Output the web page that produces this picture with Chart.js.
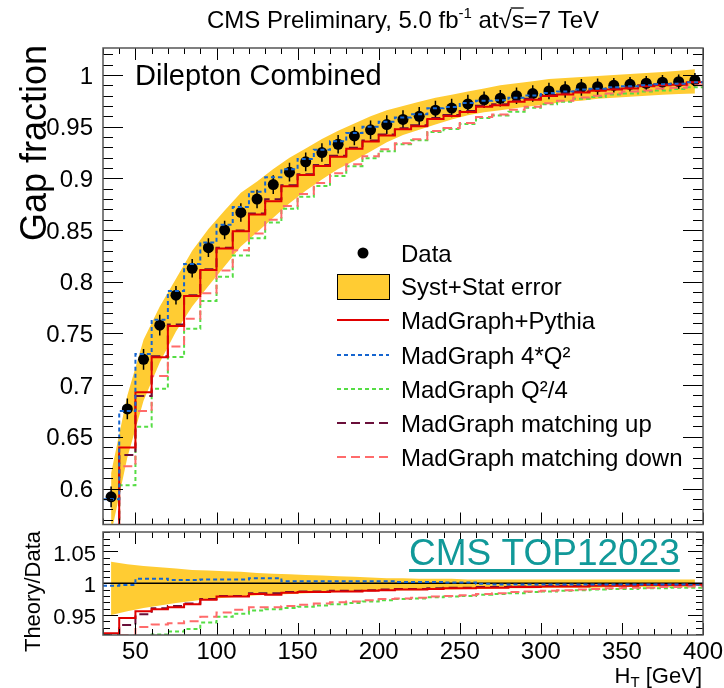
<!DOCTYPE html>
<html>
<head>
<meta charset="utf-8">
<script src="https://cdn.jsdelivr.net/npm/chart.js@4.4.1/dist/chart.umd.min.js"></script>
<style>
  html, body { margin: 0; padding: 0; background: #fff; }
  #wrap { position: relative; width: 724px; height: 688px; }
  canvas { position: absolute; left: 0; }
  #top { top: 0; }
  #ratio { top: 528px; }
</style>
</head>
<body>
<div id="wrap">
  <canvas id="top" width="724" height="530"></canvas>
  <canvas id="ratio" width="724" height="160"></canvas>
</div>
<script>
// H_T bins, 10 GeV wide
const htEdges = [30, 40, 50, 60, 70, 80, 90, 100, 110, 120, 130, 140, 150, 160, 170, 180, 190, 200, 210,
  220, 230, 240, 250, 260, 270, 280, 290, 300, 310, 320, 330, 340, 350, 360, 370, 380, 390, 400];
const htCenters = [35, 45, 55, 65, 75, 85, 95, 105, 115, 125, 135, 145, 155, 165, 175, 185, 195, 205, 215,
  225, 235, 245, 255, 265, 275, 285, 295, 305, 315, 325, 335, 345, 355, 365, 375, 385, 395];

// measured gap fraction and its error bar
const gapData = [0.592, 0.677, 0.725, 0.758, 0.787, 0.813, 0.833, 0.850, 0.867, 0.880, 0.894, 0.906, 0.916,
  0.925, 0.933, 0.941, 0.947, 0.952, 0.957, 0.960, 0.966, 0.968, 0.972, 0.976, 0.9775, 0.980, 0.982, 0.9845,
  0.986, 0.988, 0.9887, 0.990, 0.991, 0.992, 0.993, 0.9935, 0.995];
const gapErr = [0.010, 0.010, 0.010, 0.010, 0.009, 0.009, 0.009, 0.009, 0.009, 0.009, 0.009, 0.009, 0.009,
  0.009, 0.009, 0.009, 0.009, 0.009, 0.009, 0.009, 0.009, 0.009, 0.009, 0.008, 0.008, 0.008, 0.008, 0.008,
  0.008, 0.008, 0.008, 0.007, 0.007, 0.007, 0.007, 0.007, 0.007];

// syst+stat band, upper panel
const bandHi = [0.615, 0.690, 0.744, 0.776, 0.803, 0.830, 0.851, 0.869, 0.886, 0.897, 0.909, 0.920, 0.929,
  0.938, 0.946, 0.953, 0.960, 0.966, 0.970, 0.974, 0.978, 0.981, 0.984, 0.987, 0.990, 0.992, 0.994, 0.996,
  0.997, 0.998, 0.999, 1.000, 1.001, 1.002, 1.003, 1.004, 1.0055];
const bandLo = [0.556, 0.630, 0.685, 0.722, 0.752, 0.776, 0.796, 0.815, 0.834, 0.848, 0.862, 0.876, 0.888,
  0.899, 0.909, 0.917, 0.926, 0.935, 0.942, 0.947, 0.952, 0.957, 0.961, 0.964, 0.966, 0.968, 0.970, 0.972,
  0.974, 0.975, 0.977, 0.978, 0.979, 0.980, 0.981, 0.9815, 0.982];

// band in the ratio panel
const ratioBandHi = [1.034, 1.030, 1.027, 1.025, 1.023, 1.021, 1.020, 1.019, 1.018, 1.016, 1.015, 1.014,
  1.013, 1.012, 1.011, 1.010, 1.009, 1.008, 1.008, 1.007, 1.007, 1.007, 1.006, 1.006, 1.006, 1.006, 1.006,
  1.006, 1.006, 1.006, 1.006, 1.006, 1.006, 1.006, 1.006, 1.006, 1.006];
const ratioBandLo = [0.950, 0.956, 0.961, 0.965, 0.969, 0.972, 0.975, 0.977, 0.979, 0.981, 0.982, 0.983,
  0.984, 0.985, 0.986, 0.987, 0.988, 0.988, 0.989, 0.989, 0.990, 0.990, 0.991, 0.991, 0.992, 0.992, 0.992,
  0.993, 0.993, 0.993, 0.993, 0.994, 0.994, 0.994, 0.994, 0.994, 0.994];

// theory / data for each simulation
const ratioNominal = [0.921, 0.945, 0.956, 0.959, 0.962, 0.967, 0.974, 0.979, 0.979, 0.983, 0.982, 0.985,
  0.986, 0.986, 0.987, 0.987, 0.988, 0.989, 0.990, 0.990, 0.991, 0.992, 0.992, 0.993, 0.993, 0.994, 0.994,
  0.995, 0.995, 0.995, 0.996, 0.996, 0.996, 0.997, 0.997, 0.997, 0.998];
const ratioQ2up = [0.996, 0.997, 1.007, 1.007, 1.005, 1.005, 1.006, 1.006, 1.006, 1.008, 1.008, 1.003,
  1.003, 1.003, 1.003, 1.003, 1.003, 1.003, 1.002, 1.002, 1.002, 1.001, 1.001, 0.999, 0.998, 0.998, 0.998,
  0.998, 0.998, 0.998, 0.998, 0.998, 0.998, 0.998, 0.998, 0.998, 0.998];
const ratioQ2down = [0.850, 0.891, 0.910, 0.919, 0.924, 0.928, 0.938, 0.947, 0.952, 0.957, 0.959, 0.961,
  0.963, 0.965, 0.967, 0.969, 0.971, 0.973, 0.975, 0.976, 0.978, 0.979, 0.980, 0.982, 0.983, 0.984, 0.986,
  0.987, 0.988, 0.989, 0.990, 0.991, 0.991, 0.992, 0.992, 0.993, 0.993];
const ratioMatchUp = [0.920, 0.934, 0.951, 0.9605, 0.964, 0.968, 0.975, 0.980, 0.980, 0.984, 0.984, 0.986,
  0.987, 0.987, 0.988, 0.988, 0.989, 0.990, 0.991, 0.991, 0.992, 0.993, 0.993, 0.994, 0.994, 0.995, 0.995,
  0.996, 0.996, 0.996, 0.997, 0.997, 0.997, 0.998, 0.998, 0.998, 0.998];
const ratioMatchDown = [0.900, 0.918, 0.931, 0.935, 0.937, 0.940, 0.947, 0.954, 0.958, 0.962, 0.962, 0.964,
  0.966, 0.968, 0.970, 0.971, 0.973, 0.975, 0.976, 0.977, 0.979, 0.980, 0.981, 0.983, 0.984, 0.986, 0.987,
  0.988, 0.989, 0.990, 0.991, 0.992, 0.993, 0.993, 0.994, 0.994, 0.995];

const gapTicks = [0.6, 0.65, 0.7, 0.75, 0.8, 0.85, 0.9, 0.95, 1];
const gapTickLabels = ['0.6', '0.65', '0.7', '0.75', '0.8', '0.85', '0.9', '0.95', '1'];
const ratioTicks = [0.95, 1, 1.05];
const ratioTickLabels = ['0.95', '1', '1.05'];
const htTicks = [50, 100, 150, 200, 250, 300, 350, 400];
const htTickLabels = ['50', '100', '150', '200', '250', '300', '350', '400'];

const FONT = '"Liberation Sans", Arial, Helvetica, sans-serif';
const C = {
  band: '#ffcc33', red: '#e00000', blue: '#1565d0', green: '#55dd44',
  maroon: '#6a0f3a', salmon: '#ff6b6b', teal: '#119999'
};

// step histogram: one point per low edge and the last high edge
function hist(values) {
  const pts = values.map((v, i) => ({ x: htEdges[i], y: v }));
  pts.push({ x: htEdges[htEdges.length - 1], y: values[values.length - 1] });
  return pts;
}
function curve(values) { return values.map((v, i) => ({ x: htCenters[i], y: v })); }
function times(ratio) { return ratio.map((r, i) => r * gapData[i]); }

function histSet(label, values, color, dash, order) {
  return { label, data: hist(values), borderColor: color, borderWidth: 2, borderDash: dash,
    stepped: 'before', pointRadius: 0, fill: false, order, clip: 0 };
}
function bandSets(hi, lo, order) {
  return [
    { data: curve(hi), borderWidth: 0, pointRadius: 0, backgroundColor: C.band, fill: '+1', order, clip: 0 },
    { data: curve(lo), borderWidth: 0, pointRadius: 0, fill: false, order, clip: 0 }
  ];
}
// keep the plot frame exactly where the layout padding puts it
function noMargins(s) { s.paddingTop = 0; s.paddingBottom = 0; s.paddingLeft = 0; s.paddingRight = 0; }
const noGrid = { display: false, drawTicks: false };

// ROOT-like frame with inward ticks on all sides
const rootFrame = {
  id: 'rootFrame',
  afterDatasetsDraw(chart, args, o) {
    const { ctx, chartArea: a, scales: { x, y } } = chart;
    ctx.save();
    ctx.strokeStyle = '#000';
    ctx.lineWidth = 1;
    ctx.beginPath();
    for (let v = 30; v <= 400.001; v += 10) {
      const px = Math.round(x.getPixelForValue(v)) + 0.5;
      const len = v % 50 === 0 ? o.xMajor : o.xMinor;
      ctx.moveTo(px, a.bottom); ctx.lineTo(px, a.bottom - len);
      ctx.moveTo(px, a.top); ctx.lineTo(px, a.top + len);
    }
    for (let k = Math.ceil(y.min * 100); k <= Math.floor(y.max * 100); k++) {
      const py = Math.round(y.getPixelForValue(k / 100)) + 0.5;
      const len = k % 5 === 0 ? o.yMajor : o.yMinor;
      ctx.moveTo(a.left, py); ctx.lineTo(a.left + len, py);
      ctx.moveTo(a.right, py); ctx.lineTo(a.right - len, py);
    }
    ctx.stroke();
    ctx.strokeStyle = '#555';
    ctx.lineWidth = 1.5;
    ctx.strokeRect(a.left, a.top, a.right - a.left, a.bottom - a.top);
    ctx.restore();
  }
};

function drawPieces(ctx, pieces, x, y, align) {
  let w = 0;
  pieces.forEach(p => { ctx.font = p.size + 'px ' + FONT; p.w = ctx.measureText(p.t).width; w += p.w; });
  let cx = align === 'center' ? x - w / 2 : align === 'right' ? x - w : x;
  pieces.forEach(p => {
    ctx.font = p.size + 'px ' + FONT;
    ctx.fillText(p.t, cx, y + (p.dy || 0));
    if (p.over) {
      ctx.fillRect(cx - 1, y - p.size * 0.86, p.w + 1, 1.3);
    }
    cx += p.w;
  });
}
function rotated(ctx, text, size, x, y) {
  ctx.save();
  ctx.translate(x, y);
  ctx.rotate(-Math.PI / 2);
  ctx.font = size + 'px ' + FONT;
  ctx.textAlign = 'right';
  ctx.fillText(text, 0, 0);
  ctx.restore();
}

const topText = {
  id: 'topText',
  afterDraw(chart) {
    const ctx = chart.ctx;
    ctx.save();
    ctx.fillStyle = '#000';
    ctx.textBaseline = 'alphabetic';
    drawPieces(ctx, [
      { t: 'CMS Preliminary, 5.0 fb', size: 24 },
      { t: '-1', size: 15, dy: -10 },
      { t: ' at', size: 24 },
      { t: '\u221A', size: 24 },
      { t: 's', size: 24, over: true },
      { t: '=7 TeV', size: 24 }
    ], 403, 28, 'center');
    ctx.font = '29px ' + FONT;
    ctx.fillText('Dilepton Combined', 135, 85);
    rotated(ctx, 'Gap fraction', 36, 46, 45);

    // legend
    const sx0 = 337, sx1 = 389, tx = 401;
    ctx.font = '24px ' + FONT;
    const rows = [
      { t: 'Data', y: 253 },
      { t: 'Syst+Stat error', y: 286 },
      { t: 'MadGraph+Pythia', y: 320, c: C.red, d: [] },
      { t: 'MadGraph 4*Q\u00B2', y: 355, c: C.blue, d: [4, 3] },
      { t: 'MadGraph Q\u00B2/4', y: 389, c: C.green, d: [4, 3] },
      { t: 'MadGraph matching up', y: 423, c: C.maroon, d: [9, 5] },
      { t: 'MadGraph matching down', y: 457, c: C.salmon, d: [9, 5] }
    ];
    rows.forEach((r, i) => {
      ctx.fillStyle = '#000';
      ctx.fillText(r.t, tx, r.y + 9);
      if (i === 0) {
        ctx.beginPath(); ctx.arc(363, r.y, 5.5, 0, Math.PI * 2); ctx.fill();
      } else if (i === 1) {
        ctx.fillStyle = C.band; ctx.fillRect(sx0, r.y - 12, sx1 - sx0, 25);
        ctx.strokeStyle = '#000'; ctx.lineWidth = 1; ctx.strokeRect(sx0 + 0.5, r.y - 11.5, sx1 - sx0, 25);
      } else {
        ctx.strokeStyle = r.c; ctx.lineWidth = 2; ctx.setLineDash(r.d);
        ctx.beginPath(); ctx.moveTo(sx0, r.y); ctx.lineTo(sx1, r.y); ctx.stroke();
        ctx.setLineDash([]);
      }
    });
    ctx.restore();
  }
};

const ratioText = {
  id: 'ratioText',
  afterDraw(chart) {
    const ctx = chart.ctx;
    const off = 528;
    ctx.save();
    ctx.fillStyle = '#000';
    rotated(ctx, 'Theory/Data', 22, 40, 531 - off);
    drawPieces(ctx, [
      { t: 'H', size: 22 },
      { t: 'T', size: 15, dy: 4 },
      { t: ' [GeV]', size: 22 }
    ], 702, 683 - off, 'right');
    ctx.fillStyle = C.teal;
    ctx.font = '37px ' + FONT;
    ctx.fillText('CMS TOP12023', 409, 565 - off);
    const w = ctx.measureText('CMS TOP12023').width;
    ctx.fillRect(409, 569 - off, w, 3);
    ctx.restore();
  }
};

const commonX = { type: 'linear', min: 30, max: 400, grid: noGrid, border: { display: false } };

new Chart(document.getElementById('top'), {
  type: 'line',
  data: {
    datasets: [
      ...bandSets(bandHi, bandLo, 20),
      { data: htCenters.flatMap((c, i) => [{ x: c, y: gapData[i] - gapErr[i] }, { x: c, y: gapData[i] + gapErr[i] }, { x: c, y: null }]),
        borderColor: '#000', borderWidth: 1.5, pointRadius: 0, fill: false, order: 12, clip: 0 },
      { data: curve(gapData), showLine: false, pointRadius: 5.5, pointBackgroundColor: '#000',
        pointBorderWidth: 0, order: 11, clip: 0 },
      histSet('MadGraph Q2/4', times(ratioQ2down), C.green, [4, 3], 6),
      histSet('MadGraph matching down', times(ratioMatchDown), C.salmon, [9, 5], 5),
      histSet('MadGraph matching up', times(ratioMatchUp), C.maroon, [9, 5], 4),
      histSet('MadGraph+Pythia', times(ratioNominal), C.red, [], 3),
      histSet('MadGraph 4*Q2', times(ratioQ2up), C.blue, [4, 3], 2)
    ]
  },
  options: {
    animation: false, responsive: false,
    layout: { padding: { left: 0, right: 21, top: 48, bottom: 5 } },
    plugins: {
      legend: { display: false }, tooltip: { enabled: false },
      rootFrame: { xMajor: 12, xMinor: 6, yMajor: 20, yMinor: 10 }
    },
    scales: {
      x: { ...commonX, display: false },
      y: {
        min: 0.5652, max: 1.0261,
        grid: noGrid, border: { display: false },
        afterBuildTicks: s => { s.ticks = gapTicks.map(v => ({ value: v })); },
        afterFit: s => { s.width = 103; noMargins(s); },
        ticks: { color: '#000', padding: 10, labelOffset: 2, font: { family: FONT, size: 24 },
          callback: (v, i) => gapTickLabels[i] }
      }
    }
  },
  plugins: [rootFrame, topText]
});

new Chart(document.getElementById('ratio'), {
  type: 'line',
  data: {
    datasets: [
      ...bandSets(ratioBandHi, ratioBandLo, 20),
      { data: [{ x: 30, y: 1 }, { x: 400, y: 1 }], borderColor: '#000', borderWidth: 1.5, pointRadius: 0, order: 10, clip: 0 },
      histSet('MadGraph Q2/4', ratioQ2down, C.green, [4, 3], 6),
      histSet('MadGraph matching down', ratioMatchDown, C.salmon, [9, 5], 5),
      histSet('MadGraph matching up', ratioMatchUp, C.maroon, [9, 5], 4),
      histSet('MadGraph+Pythia', ratioNominal, C.red, [], 3),
      histSet('MadGraph 4*Q2', ratioQ2up, C.blue, [4, 3], 2)
    ]
  },
  options: {
    animation: false, responsive: false,
    layout: { padding: { left: 0, right: 21, top: 4, bottom: 0 } },
    plugins: {
      legend: { display: false }, tooltip: { enabled: false },
      rootFrame: { xMajor: 12, xMinor: 6, yMajor: 15, yMinor: 7 }
    },
    scales: {
      x: {
        ...commonX,
        afterBuildTicks: s => { s.ticks = htTicks.map(v => ({ value: v })); },
        afterFit: s => { s.height = 53; noMargins(s); },
        ticks: { color: '#000', padding: 3, maxRotation: 0, autoSkip: false,
          font: { family: FONT, size: 24 }, callback: (v, i) => htTickLabels[i] }
      },
      y: {
        min: 0.9184, max: 1.0807,
        grid: noGrid, border: { display: false },
        afterBuildTicks: s => { s.ticks = ratioTicks.map(v => ({ value: v })); },
        afterFit: s => { s.width = 103; noMargins(s); },
        ticks: { color: '#000', padding: 7, labelOffset: 3, font: { family: FONT, size: 22 },
          callback: (v, i) => ratioTickLabels[i] }
      }
    }
  },
  plugins: [rootFrame, ratioText]
});
</script>
</body>
</html>
